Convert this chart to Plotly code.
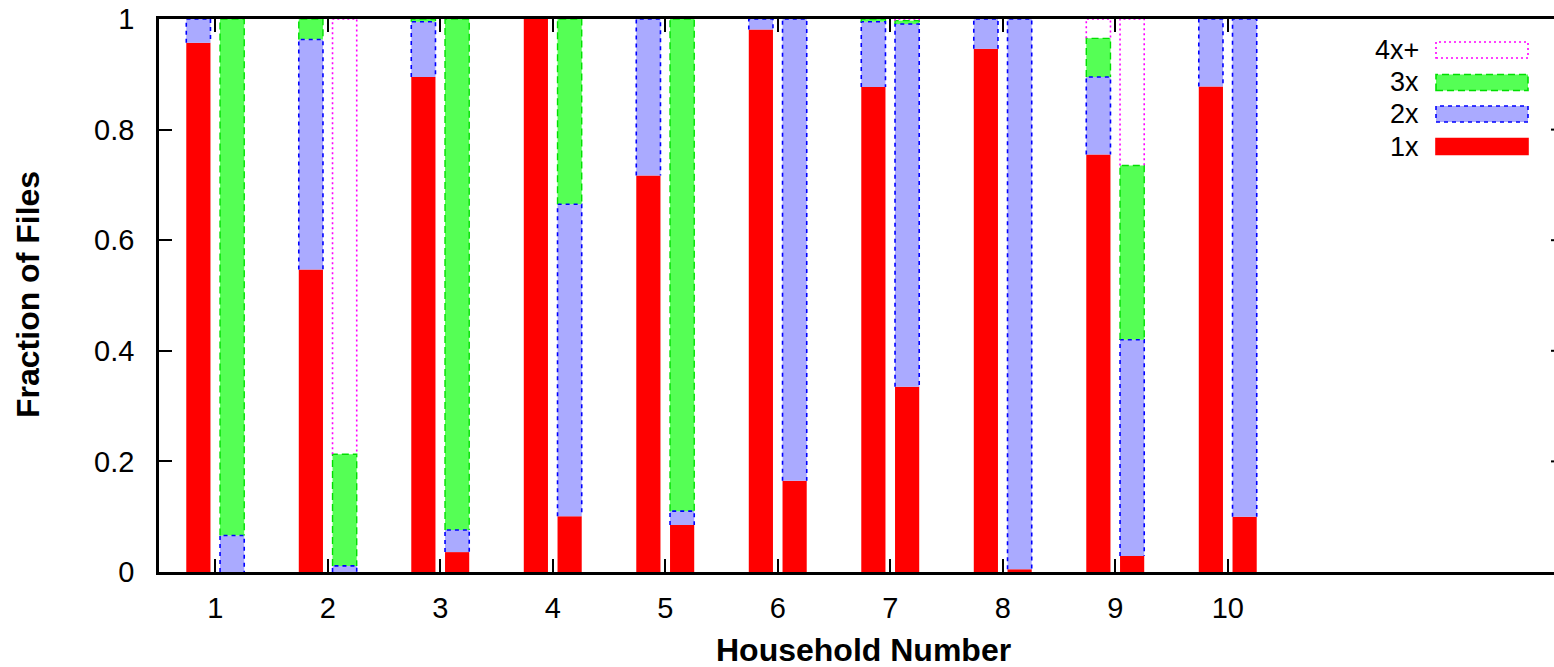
import plotly.graph_objects as go

# ---------------- data ----------------
households = [1, 2, 3, 4, 5, 6, 7, 8, 9, 10]
tick_labels = ["1", "2", "3", "4", "5", "6", "7", "8", "9", "10"]
series_names = ["1x", "2x", "3x", "4x+"]

left_1x = [0.957, 0.547, 0.895, 1.000, 0.717, 0.981, 0.877, 0.946, 0.755, 0.878]
left_2x = [0.043, 0.416, 0.100, 0.000, 0.283, 0.019, 0.118, 0.054, 0.140, 0.122]
left_3x = [0.000, 0.037, 0.005, 0.000, 0.000, 0.000, 0.005, 0.000, 0.070, 0.000]
left_4x = [0.000, 0.000, 0.000, 0.000, 0.000, 0.000, 0.000, 0.000, 0.035, 0.000]

right_1x = [0.000, 0.000, 0.036, 0.101, 0.085, 0.165, 0.335, 0.005, 0.029, 0.100]
right_2x = [0.066, 0.011, 0.040, 0.564, 0.025, 0.835, 0.656, 0.995, 0.391, 0.900]
right_3x = [0.934, 0.202, 0.924, 0.335, 0.890, 0.000, 0.006, 0.000, 0.315, 0.000]
right_4x = [0.000, 0.787, 0.000, 0.000, 0.000, 0.000, 0.003, 0.000, 0.265, 0.000]

y_ticks = [0, 0.2, 0.4, 0.6, 0.8, 1]
y_tick_labels = ["0", "0.2", "0.4", "0.6", "0.8", "1"]

# ---------------- style ----------------
fills = {"1x": "#ff0000", "2x": "#aaaaff", "3x": "#55ff55", "4x+": "rgba(255,255,255,0)"}
edge = {"1x": "#ff3030", "2x": "#0000ff", "3x": "#00e000", "4x+": "#ff00ff"}
dash = {"1x": "solid", "2x": "4px,4px", "3x": "7px,4px", "4x+": "2px,3px"}
edge_w = {"1x": 0.8, "2x": 1.6, "3x": 1.4, "4x+": 1.6}
OFFSET = 0.15
WIDTH = 0.215
FONT = "Liberation Sans, Arial, Helvetica, sans-serif"

left = {"1x": left_1x, "2x": left_2x, "3x": left_3x, "4x+": left_4x}
right = {"1x": right_1x, "2x": right_2x, "3x": right_3x, "4x+": right_4x}

fig = go.Figure()

xs = [h - OFFSET for h in households] + [h + OFFSET for h in households]
base_cum = [0.0] * (2 * len(households))
segments = {}
for name in series_names:
    vals = left[name] + right[name]
    bases = list(base_cum)
    segments[name] = (vals, bases)
    fig.add_trace(go.Bar(
        x=xs, y=vals, base=bases, width=WIDTH, name=name,
        marker=dict(color=fills[name], line=dict(width=0)),
        showlegend=False,
    ))
    base_cum = [b + v for b, v in zip(base_cum, vals)]

# dashed / dotted outlines of each stacked segment (sides + top)
for name in series_names:
    if name == "1x":
        continue
    vals, bases = segments[name]
    ox, oy = [], []
    for x, v, b in zip(xs, vals, bases):
        if v <= 0:
            continue
        x0, x1 = x - WIDTH / 2, x + WIDTH / 2
        ox += [x0, x0, x1, x1, None]
        oy += [b, b + v, b + v, b, None]
    fig.add_trace(go.Scatter(
        x=ox, y=oy, mode="lines", showlegend=False, hoverinfo="skip",
        line=dict(color=edge[name], width=edge_w[name], dash=dash[name]),
        cliponaxis=True,
    ))

# ---------------- layout ----------------
W, H = 1554, 667
L, R, T, B = 159, 0, 19, 95
pw, ph = W - L - R, H - T - B
px_per_unit = 112.5


def px(xp):
    return (xp - L) / pw


def py(yp):
    return (H - B - yp) / ph


shapes = []
annotations = []

# right-side tick fragments (frame right edge falls just outside the picture)
for yv in y_ticks[1:-1]:
    shapes.append(dict(type="line", xref="paper", yref="y", x0=px(1551), x1=1.0,
                       y0=yv, y1=yv, line=dict(color="black", width=2)))

# manual legend
legend_rows = [("4x+", 50), ("3x", 82.5), ("2x", 114), ("1x", 146.5)]
for name, yc in legend_rows:
    annotations.append(dict(text=name, xref="paper", yref="paper", x=px(1421), y=py(yc),
                            xanchor="right", yanchor="middle", showarrow=False,
                            font=dict(family=FONT, size=27, color="black")))
    fc = fills[name] if name != "4x+" else "white"
    shapes.append(dict(type="rect", xref="paper", yref="paper",
                       x0=px(1436), x1=px(1528), y0=py(yc + 8), y1=py(yc - 8),
                       fillcolor=fc,
                       line=dict(color=edge[name] if name != "1x" else fills[name],
                                 width=1.6, dash=dash[name])))

# axis titles
annotations.append(dict(text="<b>Household Number</b>", xref="paper", yref="paper",
                        x=px(863), y=py(650), xanchor="center", yanchor="middle",
                        showarrow=False, font=dict(family=FONT, size=32, color="black")))
annotations.append(dict(text="<b>Fraction of Files</b>", xref="paper", yref="paper",
                        x=px(28), y=py(295), xanchor="center", yanchor="middle",
                        textangle=-90, showarrow=False,
                        font=dict(family=FONT, size=32, color="black")))

fig.update_layout(
    width=W, height=H,
    margin=dict(l=L, r=R, t=T, b=B, pad=0),
    paper_bgcolor="white", plot_bgcolor="white",
    barmode="overlay",
    shapes=shapes, annotations=annotations,
    font=dict(family=FONT, size=29, color="black"),
    showlegend=False,
    xaxis=dict(
        range=[0.5, 0.5 + pw / px_per_unit],
        tickmode="array", tickvals=households, ticktext=tick_labels,
        ticks="inside", ticklen=13, tickwidth=2, tickcolor="black",
        showline=True, linecolor="black", linewidth=2.5, mirror="ticks",
        showgrid=False, zeroline=False, ticklabelstandoff=8,
        tickfont=dict(family=FONT, size=29, color="black"),
    ),
    yaxis=dict(
        range=[0, 1],
        tickmode="array", tickvals=y_ticks, ticktext=y_tick_labels,
        ticks="inside", ticklen=13, tickwidth=2, tickcolor="black",
        showline=True, linecolor="black", linewidth=2.5, mirror=False,
        showgrid=False, zeroline=False, ticklabelstandoff=16,
        tickfont=dict(family=FONT, size=29, color="black"),
    ),
)

fig.write_html(
    "out.html",
    config={"displayModeBar": False},
    post_script="document.body.style.margin='0';document.body.style.overflow='hidden';",
)
